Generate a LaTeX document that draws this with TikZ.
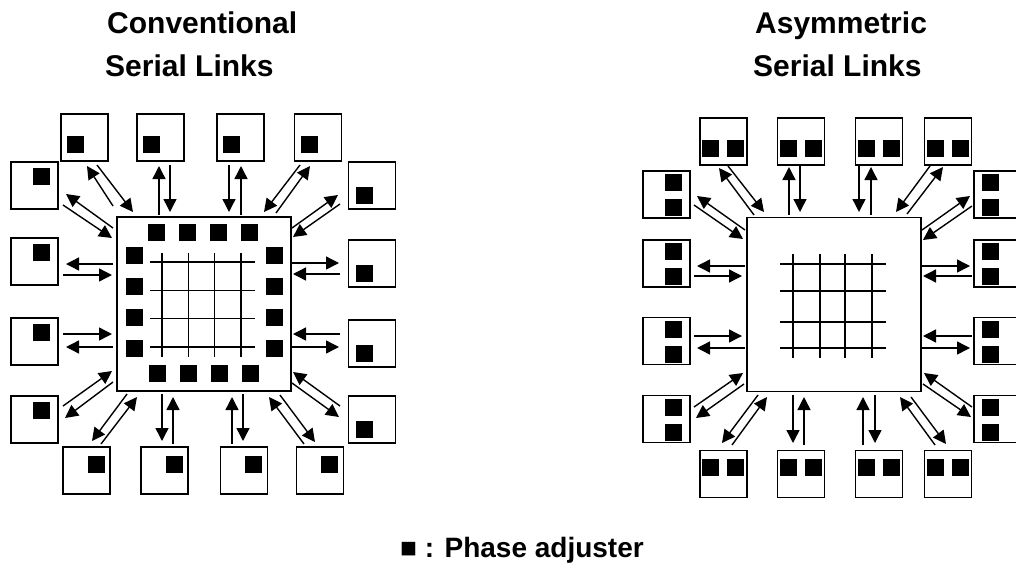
\documentclass[tikz,border=0pt]{standalone}
\usepackage{fontspec}
\setmainfont{Liberation Sans}
\usetikzlibrary{arrows.meta}
\tikzset{>={Triangle[length=13pt,width=13pt]},
  unit/.style={draw, line width=1.3pt, minimum size=47pt, inner sep=0pt},
  core/.style={draw, line width=1.3pt, minimum size=174pt, inner sep=0pt},
  pa/.style={fill=black, minimum size=17pt, inner sep=0pt},
  link/.style={->, line width=1.4pt},
  wire/.style={line width=1.3pt},
  title/.style={font=\bfseries\fontsize{30}{36}\selectfont, anchor=base west, inner sep=0pt}}

\begin{document}
\begin{tikzpicture}[x=1pt,y=-1pt]
    \useasboundingbox (0,0) rectangle (1016,565);
    \clip (0,0) rectangle (1016,565);

    % conventional serial links
    \node[title] (convA) at (107,33) {Conventional};
    \node[title] (convB) at (105,76) {Serial Links};
    \node[core] (coreL) at (204,304) {};
    \foreach \k in {0,...,3} {
        \draw[wire] (162+26.3*\k,253) -- (162+26.3*\k,357);
        \draw[wire] (150,262+28.3*\k) -- (255,262+28.3*\k);
        \node[pa] (padT\k) at (156+31*\k,232.5) {};
        \node[pa] (padB\k) at (157+31*\k,373.5) {};
        \node[pa] (padW\k) at (134.5,255.5+31*\k) {};
        \node[pa] (padE\k) at (274.5,255.5+31*\k) {};
    }
    \foreach \x/\y/\dx/\dy [count=\n] in {84.5/137.5/-9/7, 160.5/137.5/-9/7, 240.5/137.5/-9/7, 318/137.5/-9/7,
        372/185.5/-7.5/10, 372/263.5/-7.5/10, 372/343.5/-7.5/10, 372/419.5/-7.5/10,
        34.5/185.5/7/-9, 34.5/261.5/7/-9, 34.5/341.5/7/-9, 34.5/419.5/7/-9,
        86.5/470.5/9.5/-6, 164.5/470.5/9.5/-6, 244/470.5/9.5/-6, 320/470.5/9.5/-6} {
        \node[unit] (L\n) at (\x,\y) {};
        \node[pa] (L\n-pa) at ({\x+(\dx)},{\y+(\dy)}) {};
    }
    \foreach \ax/\ay/\bx/\by [count=\n] in {97/165/133/212, 113/206/87/166, 170/165/170/212, 159/215/159/166,
        229/165/229/212, 241/215/241/166, 300/165/264/212, 276/213/310/166,
        63/205/112/238, 113/228/66/194, 113/264/66/264, 63/275/112/275,
        63/334/112/334, 113/347/66/347, 63/406/112/371, 113/382/65/418,
        127/394/92/441, 101/444/137/397, 162/394/162/441, 173/444/173/397,
        232/444/232/397, 243/394/243/441, 304/444/269/397, 280/395/315/442,
        292/228/338/195, 340/204/293/237, 292/263/339/263, 340/274/293/274,
        340/334/293/334, 292/347/339/347, 340/406/293/372, 292/383/339/417} {
        \coordinate (Lt\n) at (\ax,\ay);
        \coordinate (Lh\n) at (\bx,\by);
        \draw[link] (Lt\n) -- (Lh\n);
    }

    % asymmetric serial links
    \node[title] (asymA) at (755,33) {Asymmetric};
    \node[title] (asymB) at (753,76) {Serial Links};
    \node[core] (coreR) at (834,304.5) {};
    \foreach \x in {793,820,845,872}
        \draw[wire] (\x,254) -- (\x,358);
    \foreach \y in {264,291,322,348}
        \draw[wire] (780,\y) -- (886,\y);
    \foreach \x/\y/\dx/\dy/\ex/\ey [count=\n] in {723.5/141.5/-13/7/12/7, 801/141.5/-13/7/12/7, 879/141.5/-13/7/12/7, 948/141.5/-13/7/12/7,
        997.5/194.5/-7/-12/-7/13, 997.5/263.5/-7/-12/-7/13, 997.5/341/-7/-12/-7/13, 997.5/419/-7/-12/-7/13,
        666.5/194.5/7/-12/7/13, 666.5/263.5/7/-12/7/13, 666.5/341/7/-12/7/13, 666.5/419/7/-12/7/13,
        723.5/474/-13/-7/12/-7, 801/474/-13/-7/12/-7, 879/474/-13/-7/12/-7, 948/474/-13/-7/12/-7} {
        \node[unit] (R\n) at (\x,\y) {};
        \node[pa] (R\n-pa) at ({\x+(\dx)},{\y+(\dy)}) {};
        \node[pa] (R\n-pb) at ({\x+(\ex)},{\y+(\ey)}) {};
    }
    \foreach \ax/\ay/\bx/\by [count=\n] in {728/166/764/212, 754/215/719/168, 789/215/789/167, 800/165/800/212,
        859/165/859/212, 871/215/871/167, 930/166/896/212, 907/214/943/167,
        694/205/743/239, 745/230/697/196, 745/266/697/266, 694/276/742/276,
        694/336/742/336, 745/348/697/348, 694/407/743/373, 744/384/696/418,
        758/395/722/443, 732/445/767/397, 793/395/793/443, 804/445/804/397,
        863/445/863/397, 875/395/875/443, 935/445/900/397, 911/397/946/444,
        922/230/970/196, 972/206/923/240, 922/266/970/266, 972/276/923/276,
        972/336/923/336, 922/348/970/348, 972/407/924/373, 923/384/971/417} {
        \coordinate (Rt\n) at (\ax,\ay);
        \coordinate (Rh\n) at (\bx,\by);
        \draw[link] (Rt\n) -- (Rh\n);
    }

    \node[anchor=base west, inner sep=0pt, font=\bfseries\fontsize{28}{34}\selectfont] (key) at (400,557) {■ : Phase adjuster};
\end{tikzpicture}
\end{document}
